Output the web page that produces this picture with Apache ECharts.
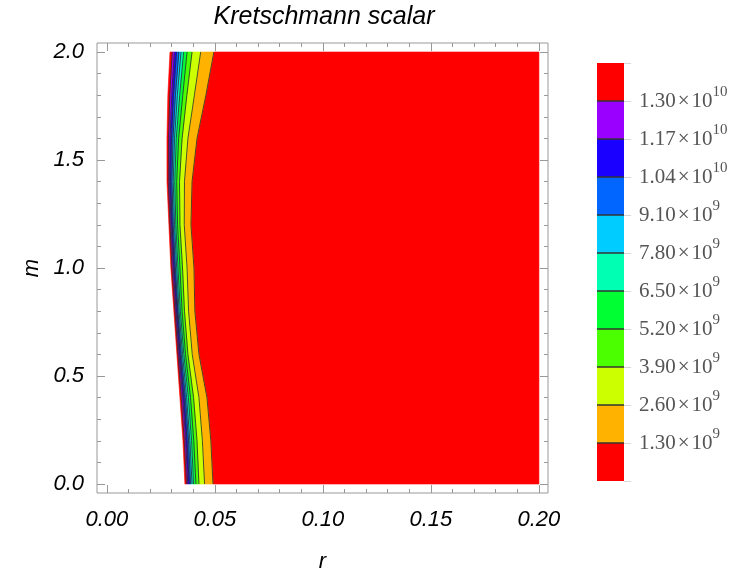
<!DOCTYPE html>
<html>
<head>
<meta charset="utf-8">
<title>Kretschmann scalar</title>
<script src="https://cdn.jsdelivr.net/npm/echarts@6/dist/echarts.min.js"></script>
<style>html,body{margin:0;padding:0;background:#fff}</style>
</head>
<body>
<div id="main" style="width:750px;height:580px;"></div>
<script>
var mVals = [0, 0.2, 0.4, 0.6, 0.8, 1.0, 1.2, 1.4, 1.6, 1.8, 2.0];
// left limit of the plotted region (white to the left)
var rEdge = [0.0361, 0.0352, 0.0338, 0.0324, 0.0310, 0.0296, 0.0287, 0.0278, 0.0278, 0.0282, 0.0292];
// contour positions r(m), one array per level
var rK10 = [0.0368, 0.0358, 0.0344, 0.0329, 0.0315, 0.0301, 0.0292, 0.0284, 0.0285, 0.0291, 0.0302]; // 1.30e10
var rK9  = [0.0374, 0.0365, 0.0351, 0.0334, 0.0320, 0.0307, 0.0297, 0.0290, 0.0292, 0.0300, 0.0312]; // 1.17e10
var rK8  = [0.0381, 0.0371, 0.0357, 0.0339, 0.0325, 0.0312, 0.0302, 0.0295, 0.0299, 0.0308, 0.0322]; // 1.04e10
var rK7  = [0.0387, 0.0378, 0.0363, 0.0344, 0.0329, 0.0317, 0.0307, 0.0301, 0.0306, 0.0317, 0.0333]; // 9.10e9
var rK6  = [0.0394, 0.0384, 0.0369, 0.0350, 0.0334, 0.0323, 0.0313, 0.0307, 0.0313, 0.0326, 0.0343]; // 7.80e9
var rK5  = [0.0401, 0.0392, 0.0377, 0.0356, 0.0340, 0.0329, 0.0319, 0.0314, 0.0321, 0.0337, 0.0355]; // 6.50e9
var rK4  = [0.0412, 0.0402, 0.0387, 0.0364, 0.0348, 0.0338, 0.0327, 0.0323, 0.0332, 0.0351, 0.0371]; // 5.20e9
var rK3  = [0.0426, 0.0417, 0.0401, 0.0375, 0.0359, 0.0350, 0.0338, 0.0336, 0.0348, 0.0370, 0.0394]; // 3.90e9
var rK2  = [0.0452, 0.0442, 0.0426, 0.0395, 0.0378, 0.0371, 0.0358, 0.0359, 0.0375, 0.0405, 0.0434]; // 2.60e9
var rK1  = [0.0491, 0.0481, 0.0463, 0.0426, 0.0407, 0.0403, 0.0389, 0.0394, 0.0417, 0.0458, 0.0495]; // 1.30e9
var rMax = 0.2;

var levels = [1.3e9, 2.6e9, 3.9e9, 5.2e9, 6.5e9, 7.8e9, 9.1e9, 1.04e10, 1.17e10, 1.3e10];
// band colours from lowest to highest value
var bandColors = ['#FF0000', '#FFB300', '#CCFF00', '#4CFF00', '#00FF33', '#00FFB2',
                  '#00CCFF', '#0066FF', '#1900FF', '#9900FF', '#FF0000'];

var rMajor = [0, 0.05, 0.10, 0.15, 0.20];
var rMinor = [0.01, 0.02, 0.03, 0.04, 0.06, 0.07, 0.08, 0.09, 0.11, 0.12, 0.13, 0.14, 0.16, 0.17, 0.18, 0.19];
var mMajor = [0, 0.5, 1.0, 1.5, 2.0];
var mMinor = [0.1, 0.2, 0.3, 0.4, 0.6, 0.7, 0.8, 0.9, 1.1, 1.2, 1.3, 1.4, 1.6, 1.7, 1.8, 1.9];

var contourR = [rK1, rK2, rK3, rK4, rK5, rK6, rK7, rK8, rK9, rK10];

var sans = 'Liberation Sans';
var tickFont = { fontFamily: sans, fontStyle: 'italic', fontSize: 22, color: '#000' };
var frameColor = '#999';

function frameAxis(pos, ticks, len, extra) {
    var isX = pos === 'top' || pos === 'bottom';
    var a = {
        gridIndex: 0, type: 'value', position: pos,
        min: isX ? -0.0046 : -0.0417,
        max: isX ? 0.2042 : 2.0417,
        axisLine: { show: false, onZero: false },
        splitLine: { show: false },
        axisTick: { show: true, inside: true, length: len, customValues: ticks,
                    lineStyle: { color: frameColor, width: 1 } },
        axisLabel: { show: false }
    };
    return Object.assign(a, extra || {});
}

function sci(v) {
    var e = Math.floor(Math.log10(v) + 1e-9);
    var mant = (v / Math.pow(10, e)).toFixed(2);
    return '{n|' + mant + '}{x|\u00d7}{n|10}{s|' + e + '}';
}

var myChart = echarts.init(document.getElementById('main'));

var option = {
    animation: false,
    backgroundColor: '#fff',
    title: {
        text: 'Kretschmann scalar',
        left: 319, top: 0, textAlign: 'center',
        textStyle: { fontFamily: sans, fontStyle: 'italic', fontWeight: 'normal', fontSize: 25, color: '#000' }
    },
    grid: [
        { left: 97, top: 43, width: 451, height: 450, show: true, borderColor: frameColor, borderWidth: 1,
          backgroundColor: 'transparent', outerBoundsMode: 'none' },
        { left: 597, top: 63, width: 27, height: 418, outerBoundsMode: 'none' }
    ],
    xAxis: [
        frameAxis('bottom', rMajor, 8, {
            axisLabel: Object.assign({ show: true, customValues: rMajor, margin: 16,
                formatter: function (v) { return v.toFixed(2); } }, tickFont),
            name: 'r', nameLocation: 'middle', nameGap: 58,
            nameTextStyle: { fontFamily: sans, fontStyle: 'italic', fontSize: 22, color: '#000' }
        }),
        frameAxis('bottom', rMinor, 4),
        frameAxis('top', rMajor, 8),
        frameAxis('top', rMinor, 4),
        { gridIndex: 1, type: 'value', min: 0, max: 1, show: false }
    ],
    yAxis: [
        frameAxis('left', mMajor, 8, {
            axisLabel: Object.assign({ show: true, customValues: mMajor, margin: 13,
                formatter: function (v) { return v.toFixed(1); } }, tickFont),
            name: 'm', nameLocation: 'middle', nameGap: 47,
            nameTextStyle: { fontFamily: sans, fontStyle: 'italic', fontSize: 22, color: '#000' }
        }),
        frameAxis('left', mMinor, 4),
        frameAxis('right', mMajor, 8),
        frameAxis('right', mMinor, 4),
        {
            gridIndex: 1, type: 'value', min: 0, max: 11, interval: 1, position: 'right',
            axisLine: { show: false, onZero: false }, splitLine: { show: false },
            axisTick: { show: true, length: 7, lineStyle: { color: '#d8d8d8' } },
            axisLabel: {
                margin: 15,
                formatter: function (v) { return (v >= 1 && v <= 10) ? sci(levels[v - 1]) : ''; },
                rich: {
                    n: { fontFamily: 'Liberation Serif', fontSize: 21, color: '#555', lineHeight: 32, verticalAlign: 'middle' },
                    x: { fontFamily: 'Liberation Serif', fontSize: 21, color: '#555', lineHeight: 32, verticalAlign: 'middle', padding: [0, 2, 0, 2] },
                    s: { fontFamily: 'Liberation Serif', fontSize: 15, color: '#555', verticalAlign: 'top' }
                }
            }
        }
    ],
    series: [
        {
            name: 'bands', type: 'custom', xAxisIndex: 0, yAxisIndex: 0, silent: true,
            data: [[0], [1], [2], [3], [4], [5], [6], [7], [8], [9], [10]],
            renderItem: function (params, api) {
                var j = api.value(0);
                var left = j < 10 ? contourR[j] : rEdge;
                var pts = [];
                var i;
                for (i = 0; i < mVals.length; i++) pts.push(api.coord([left[i], mVals[i]]));
                for (i = mVals.length - 1; i >= 0; i--) {
                    pts.push(api.coord([j === 0 ? rMax : contourR[j - 1][i], mVals[i]]));
                }
                return {
                    type: 'polygon', shape: { points: pts },
                    style: { fill: bandColors[j], stroke: bandColors[j], lineWidth: 0.6 }
                };
            }
        },
        {
            name: 'contours', type: 'custom', xAxisIndex: 0, yAxisIndex: 0, silent: true,
            data: [[1], [2], [3], [4], [5], [6], [7], [8], [9], [10]],
            renderItem: function (params, api) {
                var k = api.value(0);
                var arr = contourR[k - 1];
                var pts = [];
                for (var i = 0; i < mVals.length; i++) pts.push(api.coord([arr[i], mVals[i]]));
                return {
                    type: 'polyline', shape: { points: pts },
                    style: { fill: null, stroke: 'rgba(40,40,40,0.8)', lineWidth: 1 }
                };
            }
        },
        {
            name: 'legend', type: 'custom', xAxisIndex: 4, yAxisIndex: 4, silent: true,
            data: [[0], [1], [2], [3], [4], [5], [6], [7], [8], [9], [10]],
            renderItem: function (params, api) {
                var j = api.value(0);
                var p0 = api.coord([0, j]);
                var p1 = api.coord([1, j + 1]);
                var children = [{
                    type: 'rect',
                    shape: { x: p0[0], y: p1[1], width: p1[0] - p0[0], height: p0[1] - p1[1] },
                    style: { fill: bandColors[j] }
                }];
                if (j > 0) {
                    children.push({
                        type: 'line',
                        shape: { x1: p0[0], y1: p0[1], x2: p1[0], y2: p0[1] },
                        style: { stroke: '#333', lineWidth: 1.5 }
                    });
                }
                return { type: 'group', children: children };
            }
        }
    ]
};
myChart.setOption(option);
</script>
</body>
</html>
